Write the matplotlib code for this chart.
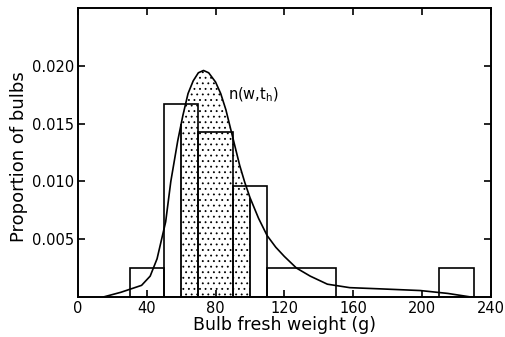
import matplotlib
matplotlib.use('Agg')
import matplotlib.pyplot as plt
import numpy as np

plt.rcParams['font.family'] = ['DejaVu Sans']
plt.rcParams['hatch.linewidth'] = 0.6

# histogram of observed bulb weights
bin_left = [30, 50, 70, 90, 110, 210]
bin_width = [20, 20, 20, 20, 40, 20]
bin_height = [0.0025, 0.0167, 0.0143, 0.0096, 0.0025, 0.0025]

# fitted distribution n(w, t_h)
curve_w = [15, 25, 37, 42, 46, 51, 54, 58, 61, 64, 67, 70, 73, 76, 80, 83, 86,
           88, 91, 94, 97, 100, 105, 110, 115, 120, 127, 135, 145, 158, 175,
           199, 215, 228]
curve_n = [0.0, 0.0004, 0.0010, 0.0018, 0.0033, 0.0065, 0.0100, 0.0135,
           0.0157, 0.0176, 0.0187, 0.0194, 0.0196, 0.0194, 0.0186, 0.0176,
           0.0162, 0.0150, 0.0132, 0.0114, 0.0099, 0.0086, 0.0068, 0.0053,
           0.0043, 0.0035, 0.0025, 0.0018, 0.0011, 0.0008, 0.0007, 0.00055,
           0.0003, 0.0]

shade_lo, shade_hi = 60, 100

fig = plt.figure(figsize=(5.06, 3.37), dpi=100)
ax = fig.add_axes([0.154, 0.119, 0.816, 0.857])

# stippled area under the curve
ws = np.linspace(shade_lo, shade_hi, 200)
ns = np.interp(ws, curve_w, curve_n)
ax.fill_between(ws, 0, ns, facecolor='white', edgecolor='black',
                hatch='...', linewidth=0)
ax.vlines([shade_lo, shade_hi], 0, np.interp([shade_lo, shade_hi], curve_w, curve_n),
          color='black', lw=1.3)

ax.bar(bin_left, bin_height, width=bin_width, align='edge',
       fill=False, edgecolor='black', linewidth=1.2)

ax.plot(curve_w, curve_n, color='black', lw=1.2)

ax.text(87, 0.0171, r'n(w,t$_\mathregular{h}$)', fontsize=10.5)

ax.set_xlim(0, 240)
ax.set_ylim(0, 0.025)
ax.set_xticks(np.arange(0, 241, 40))
ax.set_yticks([0.005, 0.010, 0.015, 0.020])
ax.set_yticklabels(['0.005', '0.010', '0.015', '0.020'])
ax.tick_params(direction='in', top=True, right=True, length=5, width=1.2,
               labelsize=10.5, pad=3)
for s in ax.spines.values():
    s.set_linewidth(1.4)

ax.set_xlabel('Bulb fresh weight (g)', fontsize=12.5)
ax.set_ylabel('Proportion of bulbs', fontsize=13)
ax.xaxis.set_label_coords(0.5, -0.066)
ax.yaxis.set_label_coords(-0.12, 0.485)

fig.savefig('out.png', dpi=100)
